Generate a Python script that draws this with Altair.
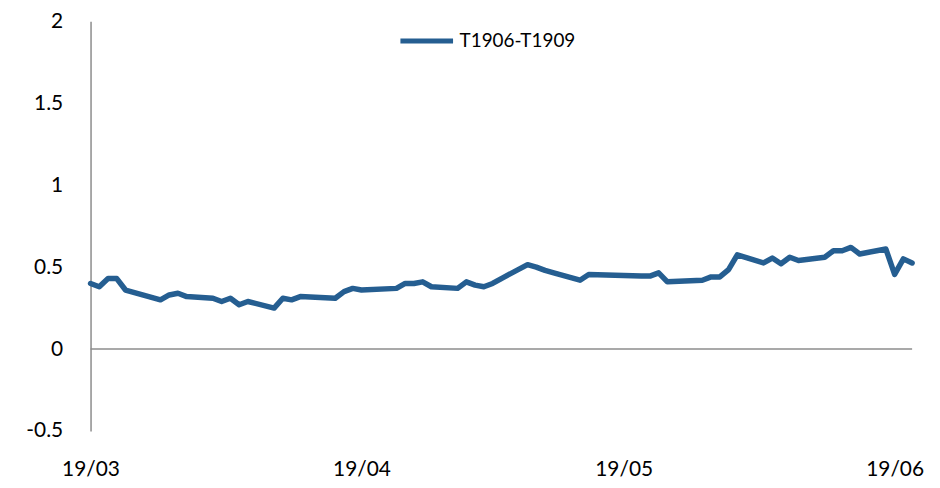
import altair as alt
import pandas as pd

dates = [
    "2019-03-01", "2019-03-02", "2019-03-03", "2019-03-04", "2019-03-05",
    "2019-03-09", "2019-03-10", "2019-03-11", "2019-03-12", "2019-03-15",
    "2019-03-16", "2019-03-17", "2019-03-18", "2019-03-19", "2019-03-22",
    "2019-03-23", "2019-03-24", "2019-03-25", "2019-03-29", "2019-03-30",
    "2019-03-31", "2019-04-01", "2019-04-05", "2019-04-06", "2019-04-07",
    "2019-04-08", "2019-04-09", "2019-04-12", "2019-04-13", "2019-04-14",
    "2019-04-15", "2019-04-16", "2019-04-17", "2019-04-20", "2019-04-21",
    "2019-04-22", "2019-04-23", "2019-04-26", "2019-04-27", "2019-05-03",
    "2019-05-04", "2019-05-05", "2019-05-06", "2019-05-10", "2019-05-11",
    "2019-05-12", "2019-05-13", "2019-05-14", "2019-05-17", "2019-05-18",
    "2019-05-19", "2019-05-20", "2019-05-21", "2019-05-24", "2019-05-25",
    "2019-05-26", "2019-05-27", "2019-05-28", "2019-05-31", "2019-06-01",
    "2019-06-02", "2019-06-03",
]
spread = [
    0.40, 0.38, 0.43, 0.43, 0.36,
    0.30, 0.33, 0.34, 0.32, 0.31,
    0.29, 0.31, 0.27, 0.29, 0.25,
    0.31, 0.30, 0.32, 0.31, 0.35,
    0.37, 0.36, 0.37, 0.40, 0.40,
    0.41, 0.38, 0.37, 0.41, 0.39,
    0.38, 0.40, 0.43, 0.515, 0.50,
    0.48, 0.465, 0.42, 0.455, 0.445,
    0.445, 0.465, 0.41, 0.42, 0.44,
    0.44, 0.485, 0.575, 0.525, 0.555,
    0.52, 0.56, 0.54, 0.56, 0.60,
    0.60, 0.62, 0.58, 0.61, 0.455,
    0.55, 0.525,
]
series_name = "T1906-T1909"
y_ticks = [-0.5, 0, 0.5, 1, 1.5, 2]
x_ticks = ["2019-03-01", "2019-04-01", "2019-05-01", "2019-06-01"]

df = pd.DataFrame({"date": pd.to_datetime(dates), "value": spread, "series": series_name})
zero_df = pd.DataFrame({"y": [0]})

FONT = "Lato"
GRAY = "#8c8c8c"
BLUE = "#255e91"

x_scale = alt.Scale(domain=[pd.Timestamp("2019-03-01").isoformat(), pd.Timestamp("2019-06-03").isoformat()])
y_scale = alt.Scale(domain=[-0.5, 2], nice=False, zero=False)

line = alt.Chart(df).mark_line(strokeWidth=5.5, strokeCap="round", strokeJoin="round").encode(
    x=alt.X(
        "date:T",
        scale=x_scale,
        axis=alt.Axis(
            values=[pd.Timestamp(t).isoformat() for t in x_ticks],
            format="%y/%m",
            title=None,
            domain=False,
            ticks=False,
            grid=False,
            labelFont=FONT,
            labelFontSize=21,
            labelColor="#000000",
            labelPadding=28,
            labelFlush=False,
        ),
    ),
    y=alt.Y(
        "value:Q",
        scale=y_scale,
        axis=alt.Axis(
            values=y_ticks,
            labelExpr="'' + datum.value",
            title=None,
            grid=False,
            ticks=False,
            domainColor=GRAY,
            domainWidth=1.5,
            labelFont=FONT,
            labelFontSize=21,
            labelColor="#000000",
            labelPadding=28,
        ),
    ),
    color=alt.Color(
        "series:N",
        scale=alt.Scale(range=[BLUE]),
        legend=alt.Legend(
            title=None,
            orient="none",
            legendX=309,
            legendY=-9,
            symbolType="stroke",
            symbolSize=2800,
            symbolStrokeWidth=5,
            labelFont=FONT,
            labelFontSize=19,
            labelColor="#000000",
            labelOffset=4,
        ),
    ),
)

zero_rule = alt.Chart(zero_df).mark_rule(color=GRAY, strokeWidth=1.5).encode(
    y=alt.Y("y:Q", scale=y_scale)
)

chart = (
    alt.layer(zero_rule, line)
    .properties(
        width=826,
        height=412,
        padding={"left": 83, "top": 12, "right": 20, "bottom": 50},
        autosize=alt.AutoSizeParams(type="none"),
        background="#ffffff",
    )
    .configure_view(stroke=None)
)

chart.save("out.html", embed_options={"renderer": "svg", "actions": False})
